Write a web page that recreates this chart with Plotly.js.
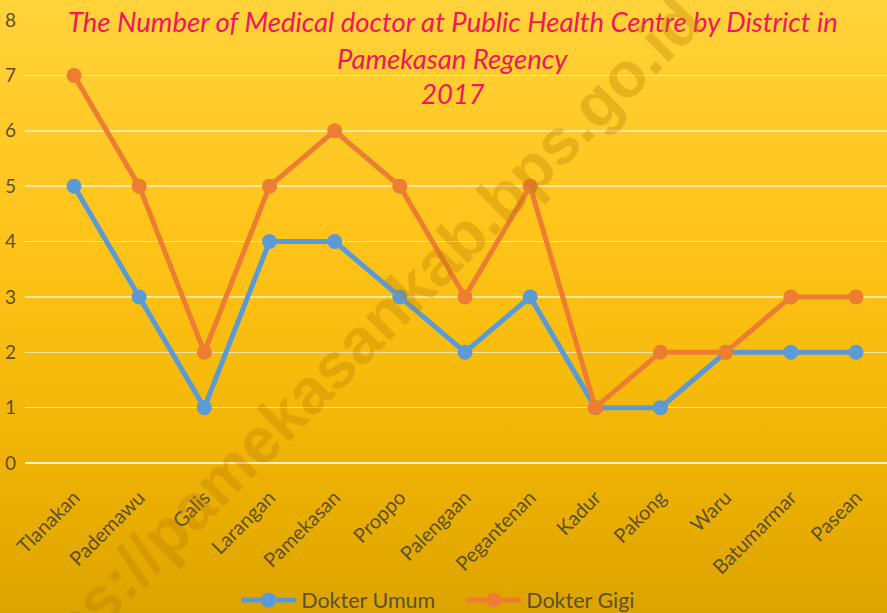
<!DOCTYPE html>
<html>
<head>
<meta charset="utf-8">
<script src="https://cdn.plot.ly/plotly-3.0.1.min.js"></script>
<style>
  html, body { margin: 0; padding: 0; }
  #chart {
    width: 887px; height: 613px;
    background: linear-gradient(to bottom, #FFD33A 0%, #FFC51C 35%, #F7BB0C 60%, #E9AD02 85%, #DCA400 100%);
  }
</style>
</head>
<body>
<div id="chart"></div>
<script>
const districts = ["Tlanakan", "Pademawu", "Galis", "Larangan", "Pamekasan", "Proppo", "Palengaan", "Pegantenan", "Kadur", "Pakong", "Waru", "Batumarmar", "Pasean"];
const dokterUmum = [5, 3, 1, 4, 4, 3, 2, 3, 1, 1, 2, 2, 2];
const dokterGigi = [7, 5, 2, 5, 6, 5, 3, 5, 1, 2, 2, 3, 3];
const yTicks = [0, 1, 2, 3, 4, 5, 6, 7, 8];
const titleLines = ["The Number of Medical doctor at Public Health Centre by District in", "Pamekasan Regency", "2017"];
const watermark = "https://pamekasankab.bps.go.id";

const FONT = "Lato, 'Open Sans', sans-serif";

const traces = [
  {
    x: districts, y: dokterUmum, name: "Dokter Umum", type: "scatter", mode: "lines+markers",
    line: { color: "#5B9BD5", width: 5 },
    marker: { color: "#5B9BD5", size: 15 }
  },
  {
    x: districts, y: dokterGigi, name: "Dokter Gigi", type: "scatter", mode: "lines+markers",
    line: { color: "#ED7D31", width: 5 },
    marker: { color: "#ED7D31", size: 15 }
  }
];

const titleY = [0.9955, 0.914, 0.835];
const annotations = titleLines.map((t, i) => ({
  text: t, xref: "paper", yref: "paper", x: 0.496, y: titleY[i],
  xanchor: "center", yanchor: "middle", showarrow: false,
  font: { family: FONT, size: 27.5, color: "#F0175E", style: "italic" }
}));
annotations.push({
  text: "<b>" + watermark + "</b>", xref: "paper", yref: "paper",
  x: 0.372, y: 0.245, xanchor: "center", yanchor: "middle", showarrow: false,
  textangle: -45,
  font: { family: "'Liberation Sans', Arial, sans-serif", size: 64, color: "rgba(185,125,0,0.33)" }
});

const layout = {
  width: 887, height: 613,
  paper_bgcolor: "rgba(0,0,0,0)", plot_bgcolor: "rgba(0,0,0,0)",
  margin: { l: 25, r: 0, t: 20, b: 150 },
  font: { family: FONT, color: "#5E5030" },
  showlegend: true,
  legend: {
    orientation: "h", x: 0.245, y: 0.021, xref: "paper", yref: "container",
    xanchor: "left", yanchor: "middle",
    itemwidth: 55, entrywidth: 155, entrywidthmode: "pixels",
    font: { family: FONT, size: 21.5, color: "#5E5030" }, bgcolor: "rgba(0,0,0,0)"
  },
  xaxis: {
    type: "category", range: [-0.752, 12.476], tickangle: -45,
    showgrid: false, zeroline: false, showline: false, ticks: "", ticklabelstandoff: 18,
    tickfont: { family: FONT, size: 20, color: "#5E5030" }, automargin: false
  },
  yaxis: {
    range: [0, 8], tickvals: yTicks, ticktext: yTicks.map(String),
    showgrid: true, gridcolor: "rgba(255,238,195,0.8)", gridwidth: 1.5,
    zeroline: true, zerolinecolor: "rgba(255,245,215,0.95)", zerolinewidth: 1.5,
    showline: false, ticks: "", ticklabelstandoff: 8,
    tickfont: { family: FONT, size: 19, color: "#5E5030" }, automargin: false
  },
  annotations: annotations
};

Plotly.newPlot("chart", traces, layout, { displayModeBar: false, staticPlot: true });
</script>
</body>
</html>
